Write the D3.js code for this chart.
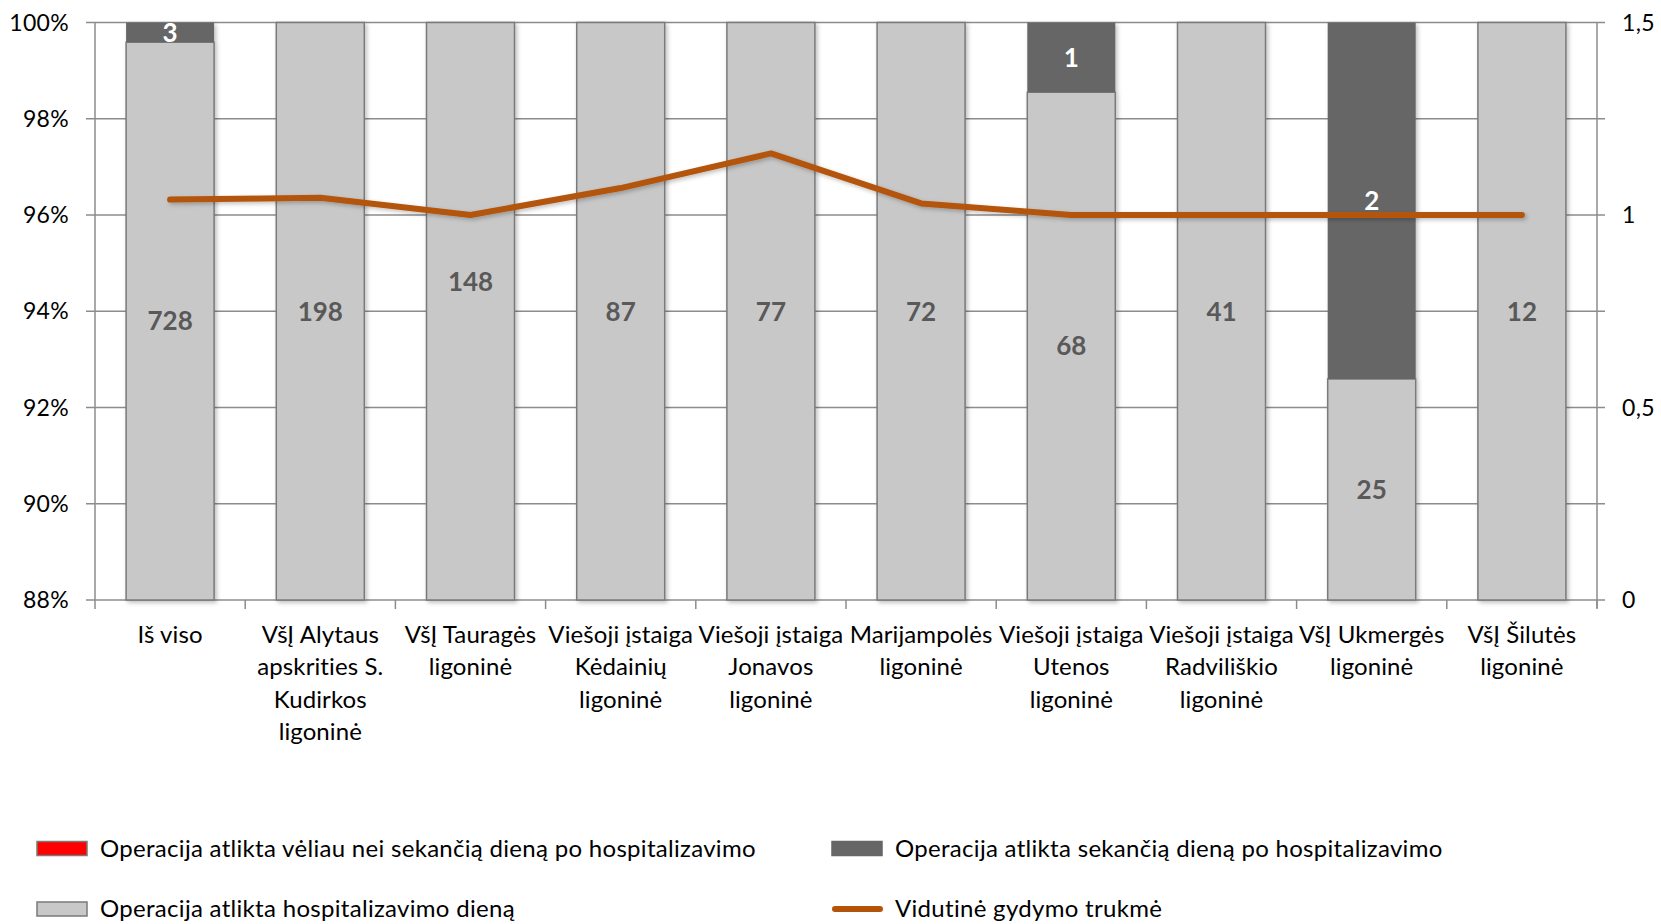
<!DOCTYPE html>
<html><head><meta charset="utf-8">
<script src="https://cdn.jsdelivr.net/npm/d3@7"></script>
<style>
html,body{margin:0;padding:0;background:#fff;}
svg{display:block;font-family:Lato,"Open Sans",sans-serif;}
</style></head>
<body>
<svg id="chart" width="1661" height="924"></svg>
<script>
const categories = [
  "Iš viso",
  "VšĮ Alytaus\napskrities S.\nKudirkos\nligoninė",
  "VšĮ Tauragės\nligoninė",
  "Viešoji įstaiga\nKėdainių\nligoninė",
  "Viešoji įstaiga\nJonavos\nligoninė",
  "Marijampolės\nligoninė",
  "Viešoji įstaiga\nUtenos\nligoninė",
  "Viešoji įstaiga\nRadviliškio\nligoninė",
  "VšĮ Ukmergės\nligoninė",
  "VšĮ Šilutės\nligoninė"
];
// counts (data labels)
const sameDay  = [728, 198, 148, 87, 77, 72, 68, 41, 25, 12];
const nextDay  = [3, 0, 0, 0, 0, 0, 1, 0, 2, 0];
const laterDay = [0, 0, 0, 0, 0, 0, 0, 0, 0, 0];
// average treatment duration (right axis)
const avgDuration = [1.04, 1.045, 1.0, 1.07, 1.16, 1.03, 1.0, 1.0, 1.0, 1.0];

const leftTicks = [0.88, 0.90, 0.92, 0.94, 0.96, 0.98, 1.00];
const rightTicks = [0, 0.5, 1, 1.5];
const legendLabels = [
  "Operacija atlikta vėliau nei sekančią dieną po hospitalizavimo",
  "Operacija atlikta sekančią dieną po hospitalizavimo",
  "Operacija atlikta hospitalizavimo dieną",
  "Vidutinė gydymo trukmė"
];

const C_LIGHT = "#c8c8c8", C_DARK = "#666666", C_RED = "#ff0000", C_LINE = "#b4540a";
const TXT = "#000", LBL = "#595959", GRID = "#8c8c8c";

const svg = d3.select("#chart");
const defs = svg.append("defs");
const f = defs.append("filter").attr("id","sh").attr("x","-20%").attr("y","-20%").attr("width","140%").attr("height","140%");
f.append("feDropShadow").attr("dx",2).attr("dy",2).attr("stdDeviation",2).attr("flood-color","#000").attr("flood-opacity",0.25);

const L = 95, R = 1597, T = 22.5, B = 600;
const x = d3.scaleBand().domain(d3.range(categories.length)).range([L, R]).padding(0);
const yL = d3.scaleLinear().domain([0.88, 1.0]).range([B, T]);
const yR = d3.scaleLinear().domain([0, 1.5]).range([B, T]);
const barW = x.bandwidth() * 0.586;

const rows = categories.map((c,i) => {
  const tot = sameDay[i] + nextDay[i] + laterDay[i];
  return {i, s: sameDay[i]/tot, n: nextDay[i]/tot, l: laterDay[i]/tot};
});

// gridlines
svg.append("g").selectAll("line").data(leftTicks).join("line")
  .attr("x1", L-9).attr("x2", R+8)
  .attr("y1", d=>yL(d)).attr("y2", d=>yL(d))
  .attr("stroke", GRID).attr("stroke-width", 1.5);

svg.append("line").attr("x1",L).attr("x2",L).attr("y1",T).attr("y2",B).attr("stroke",GRID).attr("stroke-width",1.5);
svg.append("line").attr("x1",R).attr("x2",R).attr("y1",T).attr("y2",B+8).attr("stroke",GRID).attr("stroke-width",1.5);
svg.append("g").selectAll("line").data(d3.range(categories.length+1)).join("line")
  .attr("x1", d => L + d*x.step()).attr("x2", d => L + d*x.step())
  .attr("y1", B).attr("y2", B+9).attr("stroke", GRID).attr("stroke-width", 1.5);

const fmtL = d => d3.format(".0%")(d);
svg.append("g").selectAll("text").data(leftTicks).join("text")
  .attr("x", 69).attr("y", d=>yL(d)).attr("dy","0.35em")
  .attr("text-anchor","end").attr("font-size",23).attr("letter-spacing",0.3).attr("fill",TXT).text(fmtL);
const fmtR = d => String(d).replace(".", ",");
svg.append("g").selectAll("text").data(rightTicks).join("text")
  .attr("x", 1622).attr("y", d=>yR(d)).attr("dy","0.35em")
  .attr("text-anchor","start").attr("font-size",23).attr("letter-spacing",0.3).attr("fill",TXT).text(fmtR);

// bars
const bars = svg.append("g").attr("filter","url(#sh)");
bars.selectAll("rect.light").data(rows).join("rect").attr("class","light")
  .attr("x", d => x(d.i) + (x.bandwidth()-barW)/2).attr("width", barW)
  .attr("y", d => yL(d.s)).attr("height", d => B - yL(d.s))
  .attr("fill", C_LIGHT).attr("stroke","#7a7a7a").attr("stroke-width",1.5);
bars.selectAll("rect.dark").data(rows.filter(d=>d.n>0)).join("rect").attr("class","dark")
  .attr("x", d => x(d.i) + (x.bandwidth()-barW)/2).attr("width", barW)
  .attr("y", d => yL(Math.min(1, d.s + d.n))).attr("height", d => yL(d.s) - yL(Math.min(1,d.s+d.n)))
  .attr("fill", C_DARK);
bars.selectAll("rect.red").data(rows.filter(d=>d.l>0)).join("rect").attr("class","red")
  .attr("x", d => x(d.i) + (x.bandwidth()-barW)/2).attr("width", barW)
  .attr("y", d => yL(d.s+d.n+d.l)).attr("height", d => yL(d.s+d.n) - yL(d.s+d.n+d.l))
  .attr("fill", C_RED);

const nudge = i => (i === 2 ? -30 : 0);
svg.append("g").selectAll("text").data(rows).join("text")
  .attr("x", d => x(d.i) + x.bandwidth()/2)
  .attr("y", d => (yL(d.s) + B)/2 + nudge(d.i)).attr("dy","0.36em")
  .attr("text-anchor","middle").attr("font-size",26).attr("font-weight","bold").attr("fill",LBL)
  .text(d => sameDay[d.i]);

const line = d3.line().x((d,i)=>x(i)+x.bandwidth()/2).y(d=>yR(d));
svg.append("path").datum(avgDuration).attr("d", line)
  .attr("fill","none").attr("stroke",C_LINE).attr("stroke-width",6)
  .attr("stroke-linejoin","round").attr("stroke-linecap","round").attr("filter","url(#sh)");

svg.append("g").selectAll("text").data(rows.filter(d=>d.n>0)).join("text")
  .attr("x", d => x(d.i) + x.bandwidth()/2)
  .attr("y", d => (yL(Math.min(1,d.s+d.n)) + yL(d.s))/2).attr("dy","0.36em")
  .attr("text-anchor","middle").attr("font-size",26).attr("font-weight","bold").attr("fill","#fff")
  .text(d => nextDay[d.i]);

const cat = svg.append("g");
categories.forEach((c,i) => {
  const t = cat.append("text").attr("x", x(i)+x.bandwidth()/2).attr("y", 634.5)
    .attr("text-anchor","middle").attr("font-size",24).attr("letter-spacing",0.1).attr("fill",TXT);
  c.split("\n").forEach((ln,j) => {
    t.append("tspan").attr("x", x(i)+x.bandwidth()/2).attr("dy", j===0 ? "0.35em" : 32.5).text(ln);
  });
});

const leg = svg.append("g");
const legItems = [
  {label: legendLabels[0], x: 37, y: 848.5, type:"rect", fill:C_RED, stroke:"#7a7a7a"},
  {label: legendLabels[1], x: 832, y: 848.5, type:"rect", fill:C_DARK, stroke:C_DARK},
  {label: legendLabels[2], x: 37, y: 909, type:"rect", fill:C_LIGHT, stroke:"#7a7a7a"},
  {label: legendLabels[3], x: 832, y: 909, type:"line"}
];
legItems.forEach(it => {
  if (it.type === "rect") {
    leg.append("rect").attr("x", it.x).attr("y", it.y-7).attr("width", 50).attr("height", 14)
      .attr("fill", it.fill).attr("stroke", it.stroke).attr("stroke-width",1.5);
  } else {
    leg.append("line").attr("x1", it.x+3).attr("x2", it.x+48).attr("y1", it.y).attr("y2", it.y)
      .attr("stroke", C_LINE).attr("stroke-width", 6).attr("stroke-linecap","round");
  }
  leg.append("text").attr("x", it.x+63).attr("y", it.y).attr("dy","0.35em")
    .attr("font-size",24).attr("letter-spacing",0.3).attr("fill",TXT).text(it.label);
});
</script>
</body></html>
